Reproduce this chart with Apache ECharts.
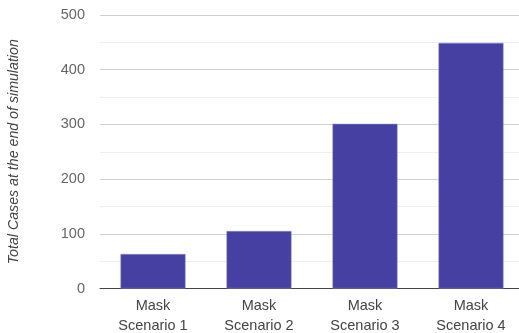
<!DOCTYPE html>
<html>
<head>
<meta charset="utf-8">
<script src="https://cdn.jsdelivr.net/npm/echarts@6/dist/echarts.min.js"></script>
<style>
  html, body { margin: 0; padding: 0; background: #fff; }
  #chart { width: 519px; height: 333px; }
</style>
</head>
<body>
<div id="chart"></div>
<script>
// Total cases per mask scenario
const categories = ['Mask\nScenario 1', 'Mask\nScenario 2', 'Mask\nScenario 3', 'Mask\nScenario 4'];
const totalCases = [63, 105, 301, 449];
const yTicks = [0, 100, 200, 300, 400, 500];

const FONT = 'Liberation Sans, Arial, sans-serif';

const chart = echarts.init(document.getElementById('chart'), null, { renderer: 'canvas' });
chart.setOption({
  animation: false,
  grid: {
    left: 100, top: 15, width: 424, height: 273.5,
    containLabel: false, outerBoundsMode: 'none'
  },
  xAxis: {
    type: 'category',
    data: categories,
    axisLine: { lineStyle: { color: '#444', width: 1 } },
    axisTick: { show: false },
    axisLabel: {
      color: '#444', fontSize: 14.5, fontFamily: FONT,
      lineHeight: 20, margin: 7
    }
  },
  yAxis: {
    type: 'value',
    min: yTicks[0],
    max: yTicks[yTicks.length - 1],
    interval: 100,
    name: 'Total Cases at the end of simulation',
    nameLocation: 'middle',
    nameGap: 79,
    nameTextStyle: {
      color: '#444', fontSize: 14.2, fontStyle: 'italic', fontFamily: FONT
    },
    axisLine: { show: false },
    axisTick: { show: false },
    axisLabel: {
      color: '#666', fontSize: 14.5, margin: 15, fontFamily: FONT
    },
    splitLine: { lineStyle: { color: '#d0d0d0', width: 1 } },
    minorTick: { show: false, splitNumber: 2 },
    minorSplitLine: { show: true, lineStyle: { color: '#eeeeee', width: 1 } }
  },
  series: [{
    type: 'bar',
    data: totalCases,
    barWidth: 65,
    itemStyle: { color: '#4540a1', borderColor: '#8f8bd0', borderWidth: 0.5 }
  }]
});
</script>
</body>
</html>
